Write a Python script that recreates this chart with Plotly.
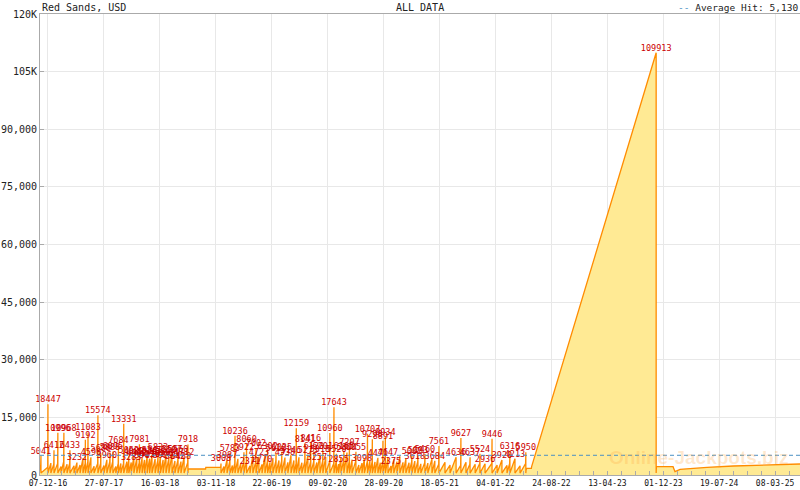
import pandas as pd
import plotly.graph_objects as go

# jackpot hits (date of hit, amount won)
# values with odd digits are the red labels on the chart, round ones are unlabelled spikes
hit_dates = [
    "2016-11-08", "2016-12-07", "2016-12-19", "2017-01-01", "2017-01-17", "2017-01-30",
    "2017-02-11", "2017-02-24", "2017-03-08", "2017-03-25", "2017-04-06", "2017-04-19",
    "2017-05-01", "2017-05-11", "2017-05-22", "2017-06-03", "2017-06-16", "2017-07-02",
    "2017-07-14", "2017-07-27", "2017-08-08", "2017-08-21", "2017-09-02", "2017-09-14",
    "2017-09-25", "2017-10-05", "2017-10-17", "2017-10-30", "2017-11-07", "2017-11-17",
    "2017-11-28", "2017-12-10", "2017-12-21", "2018-01-01", "2018-01-11", "2018-01-22",
    "2018-02-01", "2018-02-11", "2018-02-24", "2018-03-08", "2018-03-18", "2018-03-29",
    "2018-04-10", "2018-04-22", "2018-05-05", "2018-05-17", "2018-05-30", "2018-06-11",
    "2018-06-24", "2018-07-10",
    "2018-11-24", "2018-12-06", "2018-12-19", "2018-12-31", "2019-01-10", "2019-01-21",
    "2019-02-02", "2019-02-14", "2019-02-27", "2019-03-10", "2019-03-24", "2019-04-05",
    "2019-04-18", "2019-04-30", "2019-05-13", "2019-05-25", "2019-06-05", "2019-06-15",
    "2019-06-27", "2019-07-10", "2019-07-22", "2019-08-03", "2019-08-16", "2019-08-28",
    "2019-09-10", "2019-09-22", "2019-10-02", "2019-10-13", "2019-10-25", "2019-11-07",
    "2019-11-19", "2019-12-01", "2019-12-14", "2019-12-26", "2020-01-08", "2020-01-20",
    "2020-02-01", "2020-02-18", "2020-03-06", "2020-03-16", "2020-03-25", "2020-04-04",
    "2020-04-16", "2020-04-29", "2020-05-09", "2020-05-20", "2020-06-05", "2020-06-17",
    "2020-06-30", "2020-07-10", "2020-07-23", "2020-08-02", "2020-08-12", "2020-08-23",
    "2020-09-04", "2020-09-14", "2020-09-25", "2020-10-05", "2020-10-16", "2020-10-28",
    "2020-11-09", "2020-11-22", "2020-12-04", "2020-12-17", "2020-12-29", "2021-01-11",
    "2021-01-23", "2021-02-04", "2021-02-17", "2021-03-01", "2021-03-18", "2021-03-30",
    "2021-04-16", "2021-04-28", "2021-05-15", "2021-06-09", "2021-06-30", "2021-07-25",
    "2021-08-14", "2021-09-04", "2021-09-21", "2021-10-12", "2021-11-01", "2021-11-22",
    "2021-12-21", "2022-01-11", "2022-01-31", "2022-02-21", "2022-03-05", "2022-03-26",
    "2022-04-16", "2022-05-10", "2023-11-01",
]
hit_values = [
    5041, 18447, 3100, 6412, 10996, 2200,
    10968, 2800, 6433, 2400, 3232, 2600,
    4300, 9192, 11083, 4590, 2300, 15574,
    5688, 2500, 3960, 5888, 6095, 2200,
    7684, 3000, 13331, 3500, 5052, 3283,
    4883, 4312, 7981, 4527, 3917, 4826,
    4239, 5241, 4163, 5833, 4750, 3929,
    5218, 4431, 5507, 3642, 5560, 3488,
    4712, 7918,
    3008, 2200, 3987, 5783, 2500, 10236,
    4200, 3100, 5922, 8060, 2371, 5200,
    7002, 4723, 2770, 5100, 6302, 3300,
    4400, 5610, 3800, 6025, 4538, 3300,
    5146, 3800, 12159, 4600, 3200, 8141,
    5273, 8416, 6120, 3257, 5318, 6201,
    4700, 10960, 17643, 5520, 2855, 4600,
    6165, 5844, 7207, 4000, 6055, 2600,
    3098, 4300, 10707, 3700, 9298, 3400,
    4471, 3200, 8891, 9934, 4647, 2375,
    4100, 3500, 4900, 3300, 4200, 3200,
    5002, 3618, 5093, 2900, 5460, 3100,
    4200, 3684, 7561, 3300, 2600, 4636,
    9627, 3300, 4637, 2800, 5524, 2936,
    9446, 2600, 3920, 2500, 6316, 4213,
    2400, 5950, 109913,
]

# spikes where the meter jumped straight up from this level the day before
jump_dates = [
    "2016-11-08", "2016-12-07", "2017-01-01", "2017-01-17", "2017-02-11", "2017-03-08",
    "2017-05-11", "2017-05-22", "2017-07-02", "2017-07-14", "2017-08-21", "2017-09-02",
    "2017-09-25", "2017-10-17", "2017-11-07", "2017-12-21", "2018-03-08", "2018-05-30",
    "2018-07-10", "2018-11-24", "2018-12-31", "2019-01-21", "2019-02-27", "2019-03-10",
    "2019-04-18", "2019-06-05", "2019-07-10", "2019-08-03", "2019-10-02", "2019-11-07",
    "2019-12-01", "2019-12-14", "2020-01-20", "2020-02-18", "2020-03-06", "2020-03-16",
    "2020-04-16", "2020-05-09", "2020-06-05", "2020-07-23", "2020-08-12", "2020-09-25",
    "2020-10-05", "2021-01-23", "2021-02-17", "2021-03-18", "2021-05-15", "2021-08-14",
    "2021-09-21", "2021-11-01", "2021-12-21", "2022-03-05", "2022-05-10",
]
jump_levels = [
    2600, 2000, 2800, 3000, 3500, 3000,
    3000, 3500, 3000, 3000, 3500, 3500,
    3000, 3000, 3500, 3200, 3800, 3800,
    3200, 2100, 3500, 3000, 3500, 3500,
    3500, 3500, 3600, 3600, 3000, 3500,
    3500, 3500, 3600, 3500, 3000, 3500,
    3800, 3500, 3600, 3500, 3500, 3500,
    3500, 3500, 3500, 3200, 2800, 2500,
    2800, 3000, 3000, 3000, 3000,
]

RESET = 500  # level the meter falls back to after a hit

# stretches without hits (flat gaps, the long climb and the tail after the big win)
extra_dates = [
    "2016-11-03", "2018-07-11", "2018-09-21", "2018-09-22", "2018-11-20",
    "2022-05-11", "2022-05-14", "2022-06-02", "2022-06-03",
    "2023-11-02", "2024-01-10", "2024-01-18", "2024-02-08", "2024-03-20",
    "2024-05-30", "2024-09-16", "2025-02-01", "2025-06-11", "2025-06-19",
]
extra_values = [
    1200, 1560, 1560, 2000, 2000,
    1300, 1740, 1740, 2170,
    2170, 2170, 860, 1480, 1740,
    2000, 2340, 2520, 2860, 2860,
]

AVERAGE_HIT = 5130

tick_labels = ["07-12-16", "27-07-17", "16-03-18", "03-11-18", "22-06-19", "09-02-20", "28-09-20",
               "18-05-21", "04-01-22", "24-08-22", "13-04-23", "01-12-23", "19-07-24", "08-03-25"]
y_ticks = [0, 15000, 30000, 45000, 60000, 75000, 90000, 105000, 120000]
y_tick_labels = ["0", "15,000", "30,000", "45,000", "60,000", "75,000", "90,000", "105K", "120K"]

# build the sawtooth
jumps = dict(zip(jump_dates, jump_levels))
pts = []
for d, v in zip(hit_dates, hit_values):
    t = pd.Timestamp(d)
    if d in jumps:
        pts.append((t - pd.Timedelta(days=1), jumps[d]))
    pts.append((t, v))
    pts.append((t, RESET))
for d, v in zip(extra_dates, extra_values):
    pts.append((pd.Timestamp(d), v))
pts.sort(key=lambda p: p[0])
df = pd.DataFrame(pts, columns=["date", "value"])

labelled = [(pd.Timestamp(d), v) for d, v in zip(hit_dates, hit_values) if v % 100 != 0]

MONO = "DejaVu Sans Mono"
BLUE = "#4a90c4"

fig = go.Figure()
fig.add_trace(go.Scatter(
    x=df["date"], y=df["value"], mode="lines",
    line=dict(color="#ff8c00", width=1.3),
    fill="tozeroy", fillcolor="#ffea94",
    hoverinfo="skip",
))
fig.add_trace(go.Scatter(
    x=[p[0] for p in labelled], y=[p[1] for p in labelled],
    mode="text", text=[str(p[1]) for p in labelled],
    textposition="top center",
    textfont=dict(family=MONO, size=8.5, color="#cc0000"),
    cliponaxis=False, hoverinfo="skip",
))

fig.add_shape(type="line", xref="paper", x0=0, x1=1, y0=AVERAGE_HIT, y1=AVERAGE_HIT,
              line=dict(color=BLUE, width=1, dash="4px,3px"))

tick_vals = pd.to_datetime(tick_labels, format="%d-%m-%y")

fig.update_layout(
    width=800, height=490,
    margin=dict(l=40, r=0, t=14, b=15),
    plot_bgcolor="white", paper_bgcolor="white",
    showlegend=False,
    font=dict(family=MONO, size=10, color="#222"),
)
fig.update_xaxes(
    type="date", range=["2016-11-04", "2025-06-19"], automargin=False,
    tickvals=tick_vals, ticktext=tick_labels,
    tickfont=dict(size=8, color="#111"),
    showgrid=True, gridcolor="#e8e8e8",
    showline=True, linecolor="#aaaaaa", mirror=True,
    ticks="inside", ticklen=4, tickcolor="#aaaaaa",
    minor=dict(ticks="inside", ticklen=4, tickcolor="#aaaaaa",
               dtick=58 * 86400000, tick0="2016-12-07", showgrid=False),
)
fig.update_yaxes(
    range=[0, 120000], tickvals=y_ticks, ticktext=y_tick_labels, automargin=False,
    showgrid=True, gridcolor="#e8e8e8", zeroline=False,
    showline=True, linecolor="#aaaaaa",
    ticks="inside", ticklen=4, tickcolor="#aaaaaa",
)

fig.add_annotation(text="Red Sands, USD", xref="paper", yref="paper", x=0, y=1.015,
                   xanchor="left", yanchor="middle", showarrow=False,
                   font=dict(family=MONO, size=10, color="#222"))
fig.add_annotation(text="ALL DATA", xref="paper", yref="paper", x=0.5, y=1.015,
                   xanchor="center", yanchor="middle", showarrow=False,
                   font=dict(family=MONO, size=10, color="#222"))
fig.add_annotation(text=f"<span style='color:{BLUE}'>--</span> Average Hit: {AVERAGE_HIT:,}",
                   xref="paper", yref="paper", x=1, y=1.015,
                   xanchor="right", yanchor="middle", showarrow=False,
                   font=dict(family=MONO, size=9.5, color="#222"))
fig.add_annotation(text="<b>Online-Jackpots.biz</b>", xref="paper", yref="paper",
                   x=0.867, y=0.037, xanchor="center", yanchor="middle", showarrow=False,
                   font=dict(family="Liberation Sans", size=19, color="rgba(255,165,60,0.25)"))

# drop the browser's default body margin so the 800x490 figure fills the window
fig.write_html("out.html", config={"displayModeBar": False},
               post_script="document.body.style.margin = '0';")
